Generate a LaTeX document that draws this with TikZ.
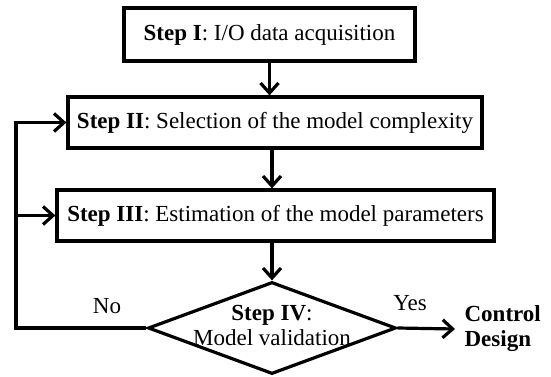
\documentclass[tikz,border=0pt]{standalone}
\usepackage{fontspec}
\setmainfont{Liberation Serif}
\usetikzlibrary{shapes.geometric,arrows.meta}

\begin{document}
\begin{tikzpicture}
[x=1pt,y=-1pt,line width=3.2pt,
 box/.style={rectangle,draw=black,fill=white,inner xsep=2pt,font=\fontsize{23}{25}\selectfont},
 decision/.style={diamond,draw=black,fill=white,inner sep=0pt,minimum width=248pt,minimum height=92pt},
 txt/.style={inner sep=0pt,align=center,font=\fontsize{23}{25}\selectfont},
 arr/.style={-{Straight Barb[length=10pt,width=18pt]}}]
\useasboundingbox (0,0) rectangle (551,377);
\node[box,minimum width=291pt,minimum height=53pt] at (269.5,34.5) (s1) {\textbf{Step I}: I/O data acquisition};
\node[box,minimum width=414pt,minimum height=51pt] at (275,122.5) (s2) {\textbf{Step II}: Selection of the model complexity};
\node[box,minimum width=437pt,minimum height=51pt] at (275.5,215.5) (s3) {\textbf{Step III}: Estimation of the model parameters};
\node[decision] at (272,328) (s4) {};
\node[txt] at (272,325) (s4t) {\textbf{Step IV}:\\Model validation};
\node[txt,anchor=base] at (107,313) (no) {No};
\node[txt,anchor=base] at (410,310) (yes) {Yes};
\node[txt,align=left,anchor=west,inner xsep=8pt,font=\fontsize{23}{25}\selectfont\bfseries] at (455,329) (cd) {Control\\Design};
\coordinate (back) at (16,328);
\draw[arr] (s1.south) -- (s1.south |- s2.north);
\draw[arr] (s2.south -| s4.north) -- (s3.north -| s4.north);
\draw[arr] (s3.south -| s4.north) -- (s4.north);
\draw[arr] (s4.west) -- (back) |- (s2.west);
\draw[arr] (back |- s3.west) -- (s3.west);
\draw[arr] (s4.east) -- (cd.west);
\end{tikzpicture}
\end{document}
